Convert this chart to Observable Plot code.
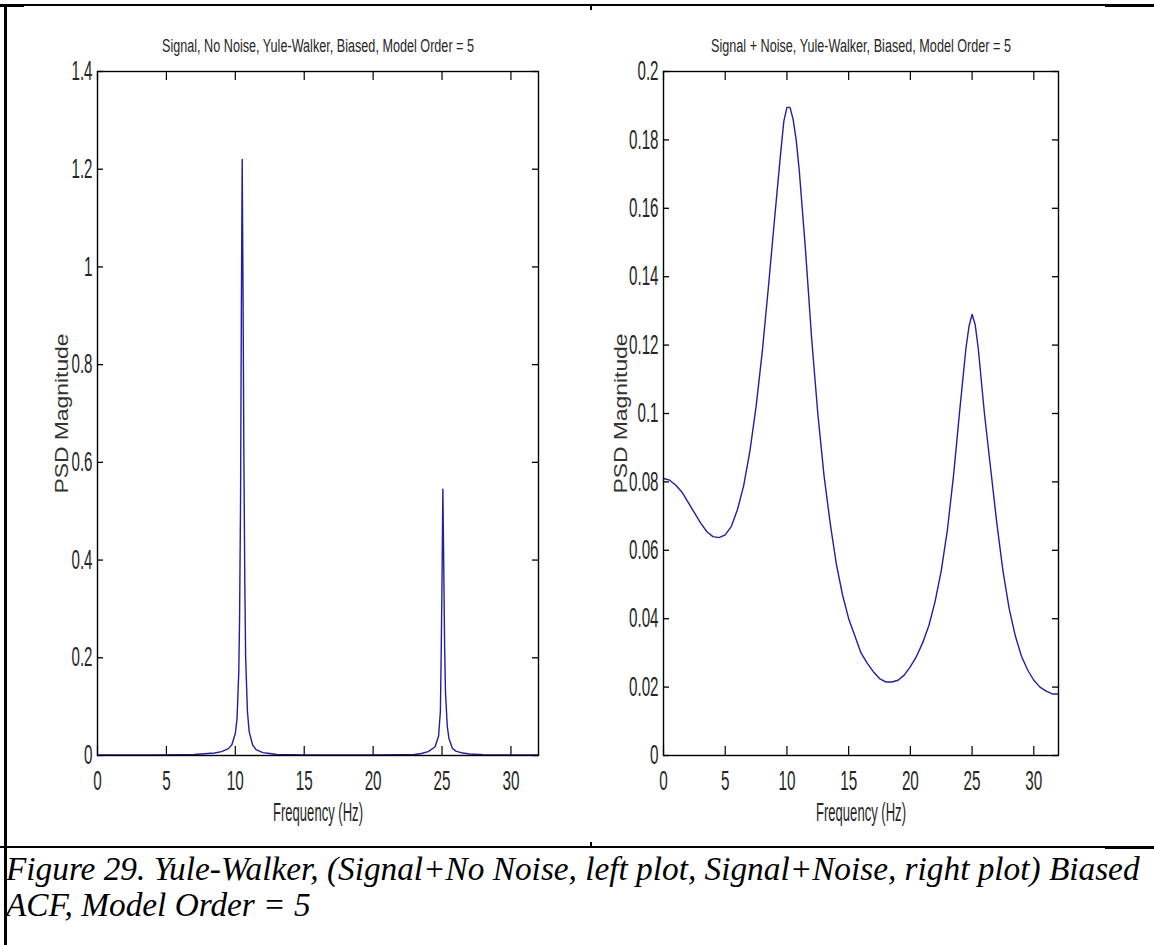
<!DOCTYPE html>
<html>
<head>
<meta charset="utf-8">
<script src="https://cdn.jsdelivr.net/npm/d3@7"></script>
<script src="https://cdn.jsdelivr.net/npm/@observablehq/plot@0.6"></script>
<style>
  html, body { margin: 0; padding: 0; background: #fff; }
  #page { position: relative; width: 1154px; height: 945px; background: #fff; overflow: hidden; }
  .panel { position: absolute; top: 0; }
  .line { position: absolute; background: #000; }
  #caption {
    position: absolute; left: 6px; top: 851px;
    font-family: "Liberation Serif", "Times New Roman", serif; font-style: italic;
    font-size: 31px; line-height: 36px; color: #000; white-space: nowrap;
  }
</style>
</head>
<body>
<div id="page">
  <div id="leftPanel" class="panel" style="left:0px"></div>
  <div id="rightPanel" class="panel" style="left:580px"></div>
  <div class="line" style="left:0;top:4px;width:1154px;height:2px"></div>
  <div class="line" style="left:0;top:4px;width:24px;height:3px"></div>
  <div class="line" style="left:1105px;top:4px;width:49px;height:3px"></div>
  <div class="line" style="left:590px;top:4px;width:2px;height:6px"></div>
  <div class="line" style="left:4px;top:4px;width:3px;height:941px"></div>
  <div class="line" style="left:0;top:846px;width:1154px;height:2px"></div>
  <div class="line" style="left:1105px;top:846px;width:49px;height:3px"></div>
  <div class="line" style="left:590px;top:842px;width:2px;height:5px"></div>
  <div id="caption"><span id="cap1">Figure 29. Yule-Walker, (Signal+No Noise, left plot, Signal+Noise, right plot) Biased</span><br><span id="cap2">ACF, Model Order = 5</span></div>
</div>
<script>
// ---- data ----
const freqTicks = [0, 5, 10, 15, 20, 25, 30];
const freqTickLabels = ["0", "5", "10", "15", "20", "25", "30"];

const leftTitle = "Signal, No Noise, Yule-Walker, Biased, Model Order = 5";
const leftYTicks = [0, 0.2, 0.4, 0.6, 0.8, 1, 1.2, 1.4];
const leftYLabels = ["0", "0.2", "0.4", "0.6", "0.8", "1", "1.2", "1.4"];
const leftFreq = [0, 2, 4, 6, 7, 8, 8.5, 9, 9.5, 9.75, 10, 10.125, 10.25, 10.31, 10.38, 10.44, 10.5, 10.56, 10.62, 10.69, 10.75, 10.88, 11, 11.25, 11.5, 12, 12.5, 13, 15, 20, 22, 23, 23.5, 24, 24.5, 24.75, 24.88, 24.94, 25.0, 25.06, 25.12, 25.19, 25.25, 25.38, 25.5, 25.75, 26, 26.5, 27, 28, 30, 32];
const leftPsd  = [0.001, 0.001, 0.001, 0.0015, 0.002, 0.004, 0.005, 0.008, 0.014, 0.022, 0.045, 0.075, 0.17, 0.28, 0.52, 0.92, 1.22, 0.95, 0.62, 0.35, 0.2, 0.09, 0.05, 0.022, 0.012, 0.006, 0.004, 0.002, 0.001, 0.001, 0.0015, 0.002, 0.004, 0.008, 0.018, 0.04, 0.09, 0.21, 0.36, 0.545, 0.4, 0.22, 0.13, 0.06, 0.035, 0.015, 0.009, 0.005, 0.003, 0.0015, 0.001, 0.001];

const rightTitle = "Signal + Noise, Yule-Walker, Biased, Model Order = 5";
const rightYTicks = [0, 0.02, 0.04, 0.06, 0.08, 0.1, 0.12, 0.14, 0.16, 0.18, 0.2];
const rightYLabels = ["0", "0.02", "0.04", "0.06", "0.08", "0.1", "0.12", "0.14", "0.16", "0.18", "0.2"];
const rightFreq = [0, 0.5, 1, 1.5, 2, 2.5, 3, 3.5, 4, 4.5, 5, 5.5, 6, 6.5, 7, 7.5, 8, 8.5, 9, 9.5, 9.75, 10, 10.25, 10.5, 10.75, 11, 11.5, 12, 12.5, 13, 13.5, 14, 14.5, 15, 15.5, 16, 16.5, 17, 17.5, 18, 18.5, 19, 19.5, 20, 20.5, 21, 21.5, 22, 22.5, 23, 23.5, 24, 24.5, 24.75, 25, 25.25, 25.5, 26, 26.5, 27, 27.5, 28, 28.5, 29, 29.5, 30, 30.5, 31, 31.5, 32];
const rightPsd  = [0.081, 0.0805, 0.079, 0.077, 0.074, 0.071, 0.068, 0.0655, 0.064, 0.0637, 0.0645, 0.067, 0.072, 0.079, 0.089, 0.102, 0.118, 0.137, 0.157, 0.1765, 0.1855, 0.1895, 0.1895, 0.186, 0.18, 0.171, 0.148, 0.122, 0.1, 0.082, 0.068, 0.056, 0.047, 0.04, 0.035, 0.03, 0.027, 0.0245, 0.0225, 0.0215, 0.0215, 0.022, 0.0235, 0.026, 0.029, 0.033, 0.038, 0.045, 0.054, 0.066, 0.082, 0.101, 0.119, 0.1255, 0.129, 0.126, 0.119, 0.1, 0.084, 0.068, 0.054, 0.043, 0.035, 0.029, 0.025, 0.022, 0.02, 0.0188, 0.018, 0.018];

// ---- drawing ----
const sans = "'Liberation Sans', Arial, Helvetica, sans-serif";
const lineColor = "#2020a0";
const textColor = "#262626";

function panel({title, freq, psd, yMax, yTicks, yLabels, width, height, ml, mr, mt, mb, labelDx}) {
  const data = freq.map((f, i) => ({f, p: psd[i]}));
  const fw = width - ml - mr, fh = height - mt - mb;
  return Plot.plot({
    width, height,
    marginLeft: ml, marginRight: mr, marginTop: mt, marginBottom: mb,
    style: {fontFamily: sans, fontSize: "27px", color: textColor, background: "transparent", overflow: "visible"},
    x: {domain: [0, 32]},
    y: {domain: [0, yMax]},
    marks: [
      Plot.tickX(freqTicks, {x: d => d, insetTop: fh - 9, stroke: "#000", strokeWidth: 1.2}),
      Plot.tickX(freqTicks, {x: d => d, insetBottom: fh - 9, stroke: "#000", strokeWidth: 1.2}),
      Plot.tickY(yTicks, {y: d => d, insetRight: fw - 6, stroke: "#000", strokeWidth: 1.3}),
      Plot.tickY(yTicks, {y: d => d, insetLeft: fw - 6, stroke: "#000", strokeWidth: 1.3}),
      Plot.line(data, {x: "f", y: "p", stroke: lineColor, strokeWidth: 1.4}),
      Plot.frame({stroke: "#000", strokeWidth: 1.4}),
      Plot.axisX(freqTicks, {tickSize: 0, tickPadding: 15, tickFormat: d => freqTickLabels[freqTicks.indexOf(d)], label: null, fontSize: 27}),
      Plot.axisY(yTicks, {tickSize: 0, tickPadding: 5, tickFormat: d => yLabels[yTicks.indexOf(d)], label: null, fontSize: 27}),
      Plot.text([title], {frameAnchor: "top", lineAnchor: "middle", dy: -25, fontSize: 18, fontFamily: sans, fill: textColor}),
      Plot.text(["Frequency (Hz)"], {frameAnchor: "bottom", lineAnchor: "middle", dy: 57, fontSize: 26, fontFamily: sans, fill: textColor}),
      Plot.text(["PSD Magnitude"], {frameAnchor: "left", textAnchor: "middle", rotate: -90, lineAnchor: "middle", dx: labelDx, fontSize: 18, fontFamily: sans, fill: "#333"})
    ]
  });
}

// the reference figure was stretched vertically: squeeze/stretch texts to their measured extents
function tickWidth(s) {
  let w = 0;
  for (const c of s) w += c === "." ? 4 : 8.5;
  return w;
}
function fitTexts(svg) {
  svg.querySelectorAll("text").forEach(t => {
    const s = t.textContent;
    let target;
    if (s === "PSD Magnitude") target = 160;
    else if (s === leftTitle) target = 312;
    else if (s === rightTitle) target = 300;
    else if (s === "Frequency (Hz)") target = 90;
    else target = tickWidth(s);
    t.setAttribute("textLength", target.toFixed(1));
    t.setAttribute("lengthAdjust", "spacingAndGlyphs");
  });
}

const leftSvg = panel({
  title: leftTitle, freq: leftFreq, psd: leftPsd, yMax: 1.4, yTicks: leftYTicks, yLabels: leftYLabels,
  width: 580, height: 830, ml: 97, mr: 42, mt: 71, mb: 75, labelDx: -35
});
document.getElementById("leftPanel").append(leftSvg);
const rightSvg = panel({
  title: rightTitle, freq: rightFreq, psd: rightPsd, yMax: 0.2, yTicks: rightYTicks, yLabels: rightYLabels,
  width: 574, height: 830, ml: 83, mr: 96, mt: 71, mb: 75, labelDx: -42
});
document.getElementById("rightPanel").append(rightSvg);
fitTexts(leftSvg);
fitTexts(rightSvg);

// caption: first line spans the table cell width
const cap1 = document.getElementById("cap1");
const w0 = cap1.getBoundingClientRect().width;
const cap = document.getElementById("caption");
cap.style.fontSize = (31 * 1134 / w0).toFixed(2) + "px";
</script>
</body>
</html>
